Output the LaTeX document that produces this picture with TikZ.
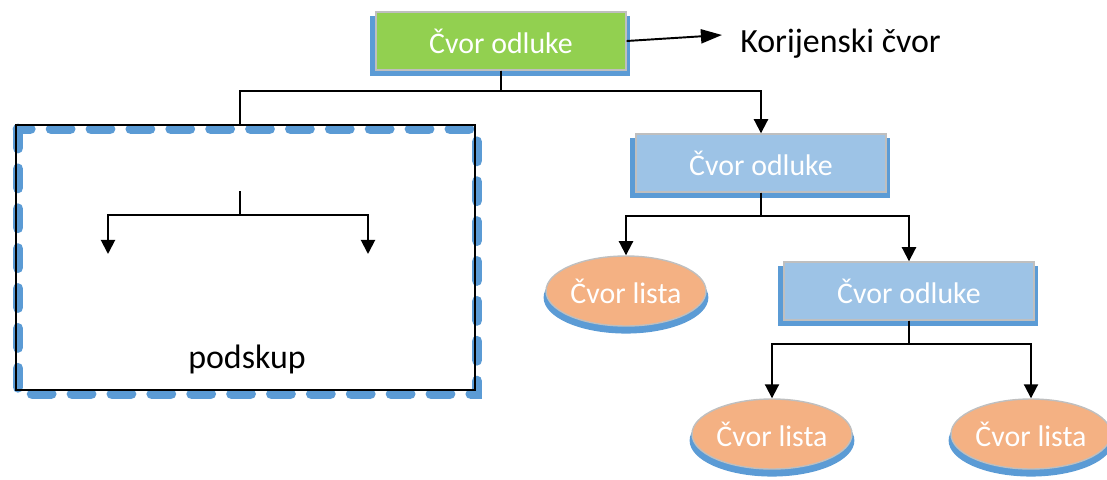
\documentclass[tikz,border=0pt]{standalone}
\usepackage{fontspec}
\setmainfont{Carlito}
\usepackage{tikz}
\usetikzlibrary{arrows.meta,positioning,shapes.geometric,shadows}
\definecolor{rootgreen}{HTML}{92D050}
\definecolor{nodeblue}{HTML}{9DC3E6}
\definecolor{leaforange}{HTML}{F4B183}
\definecolor{shadeblue}{HTML}{5B9BD5}
\definecolor{rimgray}{HTML}{BFBFBF}
\tikzset{
  decision/.style={rectangle, draw=rimgray, line width=0.8pt, fill=nodeblue,
    text=white, minimum width=5cm, minimum height=1.16cm, inner sep=0pt,
    font=\fontsize{17}{20}\selectfont,
    general shadow={fill=shadeblue, rounded corners=1.5pt, shadow scale=1.04,
      shadow xshift=-0.6pt, shadow yshift=-2.6pt}},
  leaf/.style={ellipse, draw=rimgray, line width=0.8pt, fill=leaforange,
    text=white, minimum width=3.2cm, minimum height=1.4cm, inner sep=0pt,
    font=\fontsize{17}{20}\selectfont,
    general shadow={fill=shadeblue, shadow scale=1.03, shadow yshift=-3.6pt}},
  link/.style={line width=1.1pt, -{Triangle[width=8pt,length=8pt]}},
  note/.style={inner sep=0pt, font=\fontsize{19.3}{23}\selectfont},
  subsetdash/.style={draw=shadeblue, line width=6.2pt, line cap=round,
    dash pattern=on 10.8pt off 11.9pt}
}
\begin{document}
\begin{tikzpicture}[x=0.02cm,y=-0.02cm]
\useasboundingbox (0,0) rectangle (1107,480);
% podskup
\draw[subsetdash] (18,129) rectangle (477,394);
\draw[line width=0.9pt] (16,125) rectangle (475,390);
\coordinate (subtop) at (240,125);
\coordinate (s0) at (240,191);
\coordinate (s1) at (108,254);
\coordinate (s2) at (368,254);
\node[note, anchor=base] (subname) at (247,368) {podskup};
% stablo
\node[decision, fill=rootgreen] (root) at (501,41) {Čvor odluke};
\node[decision] (d1) at (761,163) {Čvor odluke};
\node[decision] (d2) at (909,291) {Čvor odluke};
\node[leaf] (l1) at (626,291) {Čvor lista};
\node[leaf] (l2) at (772,434) {Čvor lista};
\node[leaf] (l3) at (1031,434) {Čvor lista};
\coordinate (rootarrow) at (722,35);
\node[note, anchor=base west] (rootname) at (740,52) {Korijenski čvor};
\draw[line width=1.1pt, -{Triangle[width=8pt,length=12pt]}] (root.east) -- (rootarrow);
\draw[line width=1.1pt] (root.south) -- ++(0,20) -| (subtop);
\draw[link] (root.south) -- ++(0,20) -| (d1.north);
\draw[link] (d1.south) -- ++(0,23) -| (l1.north);
\draw[link] (d1.south) -- ++(0,23) -| (d2.north);
\draw[link] (d2.south) -- ++(0,23) -| (l2.north);
\draw[link] (d2.south) -- ++(0,23) -| (l3.north);
\draw[link] (s0) -- ++(0,24) -| (s1);
\draw[link] (s0) -- ++(0,24) -| (s2);
\end{tikzpicture}
\end{document}
